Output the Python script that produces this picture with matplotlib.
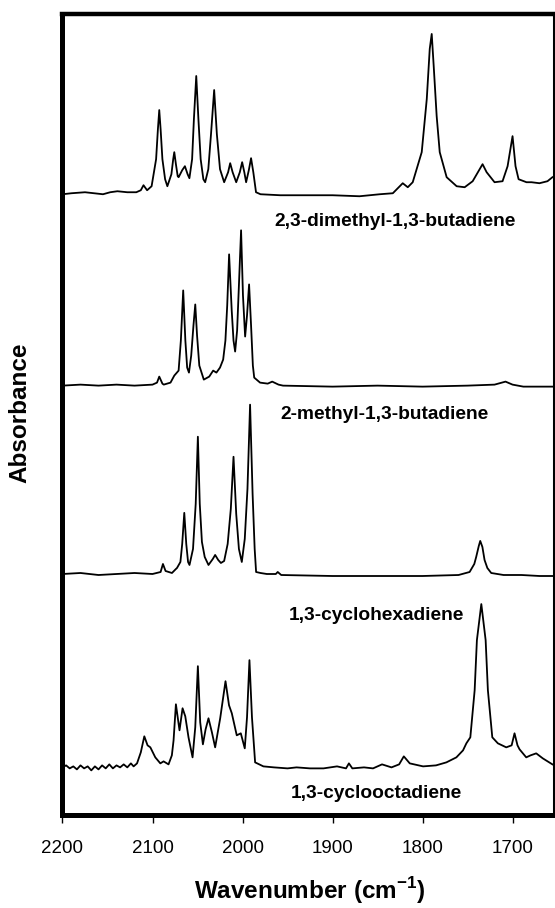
import matplotlib.pyplot as plt

plt.rcParams['font.family'] = 'Liberation Sans'
plt.rcParams['mathtext.fontset'] = 'custom'
plt.rcParams['mathtext.bf'] = 'Liberation Sans:bold'
plt.rcParams['mathtext.rm'] = 'Liberation Sans:bold'

# 2,3-dimethyl-1,3-butadiene (absorbance above its own baseline)
wn_dmb = [2200, 2190, 2175, 2165, 2155, 2147, 2139, 2128, 2118, 2113, 2110, 2106, 2101,
          2096, 2094, 2092.5, 2091, 2089, 2086, 2083.5, 2079, 2077, 2075.8, 2074, 2072,
          2071, 2067, 2064, 2061, 2059, 2056, 2054, 2051.4, 2049, 2046.5, 2043.5, 2041.5,
          2038, 2035, 2031.5, 2028.5, 2025, 2020.4, 2016, 2013.7, 2011, 2007, 2003, 2000.4,
          1998, 1996, 1993, 1990.5, 1988, 1985, 1980, 1958, 1940, 1900, 1870, 1847.5, 1833,
          1822, 1816.4, 1810.9, 1800.9, 1795.3, 1792.0, 1789.8, 1787.6, 1784.3, 1780.9,
          1773.2, 1762.1, 1753.2, 1744.3, 1733.3, 1728.8, 1720.0, 1711.1, 1705.5, 1700.0,
          1696.7, 1693.3, 1684.5, 1678.9, 1670.1, 1661.2, 1655.7]
ab_dmb = [0.00, 0.01, 0.02, 0.01, 0.00, 0.02, 0.03, 0.02, 0.02, 0.04, 0.09, 0.04, 0.08,
          0.35, 0.65, 0.84, 0.65, 0.35, 0.15, 0.08, 0.20, 0.35, 0.42, 0.30, 0.18,
          0.17, 0.24, 0.28, 0.20, 0.16, 0.35, 0.75, 1.18, 0.75, 0.35, 0.15, 0.12,
          0.25, 0.60, 1.04, 0.60, 0.25, 0.12, 0.22, 0.31, 0.22, 0.12, 0.22, 0.32,
          0.22, 0.12, 0.24, 0.36, 0.22, 0.02, 0.00, -0.01, -0.01, -0.01, -0.02, 0.00, 0.01,
          0.11, 0.07, 0.12, 0.42, 0.95, 1.45, 1.60, 1.28, 0.78, 0.42,
          0.17, 0.08, 0.07, 0.13, 0.30, 0.22, 0.12, 0.13, 0.28, 0.58,
          0.28, 0.15, 0.12, 0.12, 0.11, 0.13, 0.17]

# 2-methyl-1,3-butadiene
wn_mb = [2200, 2180, 2160, 2140, 2120, 2100, 2095, 2092.5, 2089, 2087.5, 2080, 2077, 2075.8,
         2071, 2068.5, 2065.9, 2063.5, 2061.5, 2059.5, 2057, 2054.5, 2052.5, 2050.5, 2048,
         2043, 2037, 2032.6, 2029, 2025, 2021.5, 2019, 2017, 2014.9, 2012, 2010, 2008.2,
         2006, 2004, 2001.6, 1999.5, 1997.1, 1995, 1992.7, 1990.5, 1988.5, 1987, 1980.5,
         1972, 1967, 1960, 1955, 1900, 1850, 1800, 1750, 1720, 1707.8, 1700, 1688, 1654.5]
ab_mb = [0.00, 0.01, 0.00, 0.01, 0.00, 0.01, 0.03, 0.09, 0.02, 0.01, 0.03, 0.08, 0.10,
         0.15, 0.45, 0.95, 0.45, 0.18, 0.13, 0.30, 0.60, 0.81, 0.50, 0.20,
         0.06, 0.09, 0.15, 0.13, 0.18, 0.26, 0.45, 0.80, 1.31, 0.75, 0.45, 0.34,
         0.55, 1.00, 1.55, 0.90, 0.49, 0.70, 1.01, 0.60, 0.20, 0.08, 0.03,
         0.02, 0.04, 0.01, 0.00, -0.01, 0.00, -0.01, 0.00, 0.01, 0.04, 0.01, -0.01, -0.01]

# 1,3-cyclohexadiene
wn_chd = [2200, 2180, 2160, 2140, 2120, 2100, 2091, 2088.4, 2085.5, 2078.4, 2074, 2072.8,
          2069, 2067, 2064.7, 2062.5, 2060.5, 2058.9, 2055, 2052, 2049.6, 2047.5, 2045.1,
          2042, 2037.8, 2033, 2030.4, 2027, 2024, 2020.4, 2016.5, 2013, 2010, 2007, 2004,
          2000.8, 1997.5, 1994.5, 1991.6, 1988.8, 1986.5, 1984.9, 1980, 1973, 1963, 1960.9,
          1957, 1900, 1850, 1800, 1760, 1747.7, 1742.5, 1740.4, 1737.5, 1735.9, 1733.5,
          1731.1, 1728, 1723.7, 1710, 1690, 1670, 1654.5]
ab_chd = [0.00, 0.01, -0.01, 0.00, 0.01, 0.00, 0.02, 0.10, 0.03, 0.01, 0.05, 0.06,
          0.12, 0.30, 0.61, 0.30, 0.12, 0.09, 0.25, 0.70, 1.37, 0.70, 0.32,
          0.17, 0.09, 0.15, 0.19, 0.14, 0.11, 0.13, 0.30, 0.65, 1.17, 0.60, 0.25,
          0.12, 0.35, 0.85, 1.69, 0.80, 0.25, 0.02, 0.01, 0.00, 0.00, 0.02,
          -0.01, -0.02, -0.02, -0.02, -0.01, 0.02, 0.10, 0.17, 0.28, 0.33, 0.27,
          0.14, 0.06, 0.01, -0.01, -0.01, -0.02, -0.02]

# 1,3-cyclooctadiene
wn_cod = [2200, 2196, 2192, 2188, 2184, 2180, 2176, 2172, 2168, 2164, 2160, 2156, 2152,
          2148, 2144, 2140, 2136, 2132, 2128, 2124, 2121, 2117.2, 2113, 2109.1, 2105.5,
          2102.4, 2096.9, 2091.3, 2087.7, 2082.2, 2078.5, 2076.6, 2074.0, 2070.0, 2066.6,
          2063.6, 2060, 2055.5, 2052.5, 2049.6, 2047, 2044.0, 2041, 2037.8, 2034, 2030.4,
          2024.8, 2018.9, 2015, 2011.9, 2006.4, 2001.9, 1997.5, 1995, 1992.3, 1989.5,
          1986.0, 1976.8, 1965, 1950, 1940, 1925, 1910, 1895, 1885, 1881.8, 1878, 1865,
          1855, 1845, 1834.5, 1826, 1820.8, 1814.2, 1799.4, 1785, 1773.5, 1762.4, 1755,
          1751.3, 1746.9, 1742.1, 1739.6, 1734.7, 1729.9, 1727.4, 1722.5, 1716.3, 1707.0,
          1701, 1697.8, 1694.5, 1692.2, 1684.8, 1680, 1673.7, 1666.4, 1655.7]
ab_cod = [0.00, 0.02, -0.01, 0.01, -0.02, 0.02, -0.01, 0.01, -0.03, 0.01, -0.02, 0.02, -0.01,
          0.03, -0.01, 0.02, 0.00, 0.03, 0.00, 0.04, 0.01, 0.04, 0.15, 0.31, 0.22,
          0.20, 0.10, 0.04, 0.06, 0.03, 0.12, 0.27, 0.63, 0.37, 0.59,
          0.51, 0.30, 0.10, 0.40, 1.01, 0.45, 0.23, 0.38, 0.49, 0.35, 0.20,
          0.49, 0.86, 0.62, 0.54, 0.32, 0.34, 0.19, 0.50, 1.07, 0.50,
          0.05, 0.01, 0.00, -0.01, 0.00, -0.01, -0.01, 0.01, -0.01, 0.04, -0.01, 0.00,
          -0.01, 0.03, 0.00, 0.03, 0.11, 0.04, 0.01, 0.02, 0.05, 0.10, 0.17,
          0.24, 0.30, 0.77, 1.27, 1.63, 1.27, 0.77, 0.30, 0.24, 0.20,
          0.22, 0.34, 0.22, 0.18, 0.10, 0.12, 0.14, 0.09, 0.03]

names = ['2,3-dimethyl-1,3-butadiene', '2-methyl-1,3-butadiene',
         '1,3-cyclohexadiene', '1,3-cyclooctadiene']
offsets = [6.20, 4.29, 2.41, 0.48]
xticks = [2200, 2100, 2000, 1900, 1800, 1700]

fig = plt.figure(figsize=(5.55, 9.08), dpi=100)
ax = fig.add_axes([0.1126, 0.1019, 0.8847, 0.8828])

spectra = [(wn_dmb, ab_dmb), (wn_mb, ab_mb), (wn_chd, ab_chd), (wn_cod, ab_cod)]
for (wn, ab), off in zip(spectra, offsets):
    ax.plot(wn, [a + off for a in ab], color='black', lw=1.3, solid_joinstyle='round')

# compound labels under each trace
label_pos = [(1831, 5.93), (1842, 4.00), (1851, 2.00), (1851, 0.22)]
for name, (lx, ly) in zip(names, label_pos):
    ax.text(lx, ly, name, ha='center', va='center', fontsize=13.8, fontweight='bold')

ax.set_xlim(2200, 1654.5)
ax.set_ylim(0, 8.0)
ax.set_xticks(xticks)
ax.set_yticks([])
ax.tick_params(axis='x', direction='out', length=6, width=1, labelsize=13.5, pad=12)

ax.spines['left'].set_linewidth(3.6)
ax.spines['bottom'].set_linewidth(3.6)
ax.spines['top'].set_linewidth(3.2)
ax.spines['right'].set_linewidth(2.2)

ax.set_xlabel(r'Wavenumber (cm$^{\mathbf{-1}}$)', fontsize=17.5, fontweight='bold')
ax.set_ylabel('Absorbance', fontsize=17.5, fontweight='bold')
ax.xaxis.set_label_coords(0.504, -0.074)
ax.yaxis.set_label_coords(-0.064, 0.502)

fig.savefig('out.png', dpi=100)
